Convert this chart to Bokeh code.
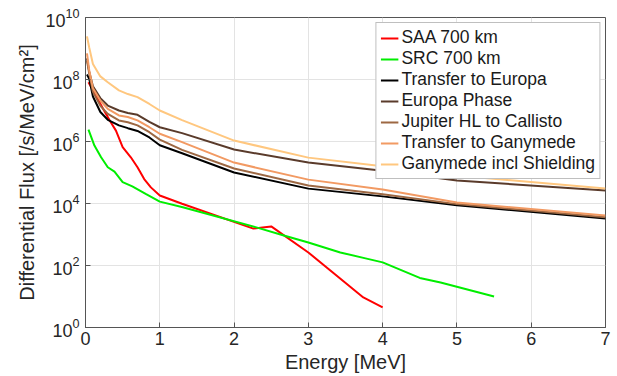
from bokeh.plotting import figure
from bokeh.models import FixedTicker, Legend, LegendItem, Range1d
from bokeh.embed import file_html
from bokeh.resources import INLINE

# ---- data (energy in MeV, flux as log10 of /s/MeV/cm^2) ----
saa_e = [0.04, 0.14, 0.25, 0.34, 0.41, 0.5, 0.61, 0.7, 0.79, 0.88, 1.0, 1.3, 2.26, 2.5, 3.0, 3.74, 4.0]
saa_log = [7.91, 7.48, 7.0, 6.62, 6.35, 5.82, 5.49, 5.17, 4.79, 4.52, 4.26, 3.99, 3.19, 3.26, 2.42, 0.97, 0.65]

src_e = [0.04, 0.12, 0.21, 0.3, 0.39, 0.5, 0.63, 0.81, 1.0, 1.31, 2.3, 2.67, 3.0, 3.43, 3.77, 4.0, 4.5, 4.78, 5.5]
src_log = [6.38, 5.87, 5.49, 5.17, 5.03, 4.69, 4.55, 4.31, 4.06, 3.88, 3.23, 2.97, 2.74, 2.42, 2.23, 2.1, 1.6, 1.45, 1.0]

jup_e = [0.02, 0.05, 0.1, 0.2, 0.3, 0.45, 0.57, 0.7, 0.86, 1.0, 1.3, 2.0, 3.0, 4.0, 5.0, 7.0]
europa_transfer_log = [8.16, 8.02, 7.45, 6.95, 6.7, 6.52, 6.43, 6.34, 6.13, 5.88, 5.62, 5.0, 4.48, 4.23, 3.94, 3.52]
europa_phase_log = [8.68, 8.25, 7.78, 7.4, 7.16, 7.0, 6.92, 6.86, 6.63, 6.46, 6.27, 5.74, 5.32, 5.06, 4.74, 4.42]
jupiter_hl_log = [8.6, 8.2, 7.6, 7.15, 6.89, 6.68, 6.62, 6.52, 6.3, 6.06, 5.73, 5.13, 4.58, 4.3, 3.98, 3.56]
ganymede_transfer_log = [8.84, 8.3, 7.72, 7.32, 7.05, 6.84, 6.79, 6.68, 6.46, 6.25, 5.98, 5.32, 4.77, 4.45, 4.03, 3.61]
ganymede_shield_log = [9.39, 9.03, 8.5, 8.1, 7.91, 7.65, 7.53, 7.43, 7.21, 7.0, 6.69, 6.03, 5.48, 5.2, 4.9, 4.48]

series = [
    ("SAA 700 km", saa_e, saa_log, "#ff0000"),
    ("SRC 700 km", src_e, src_log, "#00ee00"),
    ("Transfer to Europa", jup_e, europa_transfer_log, "#000000"),
    ("Europa Phase", jup_e, europa_phase_log, "#5a3b2b"),
    ("Jupiter HL to Callisto", jup_e, jupiter_hl_log, "#9d6843"),
    ("Transfer to Ganymede", jup_e, ganymede_transfer_log, "#f29a63"),
    ("Ganymede incl Shielding", jup_e, ganymede_shield_log, "#ffc77f"),
]

y_ticks = [1e0, 1e2, 1e4, 1e6, 1e8, 1e10]
x_ticks = [0, 1, 2, 3, 4, 5, 6, 7]

FONT = "Liberation Sans"

p = figure(width=612, height=376, y_axis_type="log", output_backend="svg",
           toolbar_location=None, x_range=Range1d(0, 7), y_range=Range1d(1, 1e10),
           min_border_left=85, min_border_right=7, min_border_top=17, min_border_bottom=49)

items = []
for name, e, lg, col in series:
    r = p.line(e, [10 ** v for v in lg], line_color=col, line_width=2)
    items.append(LegendItem(label=name, renderers=[r]))

legend = Legend(items=items, location="top_right", label_text_font=FONT,
                label_text_font_size="17.5px", label_height=20, glyph_height=20,
                glyph_width=18, spacing=0, padding=4, margin=5,
                border_line_color="#808080", border_line_width=1,
                label_standoff=3, background_fill_alpha=1.0,
                label_text_color="#1a1a1a")
p.add_layout(legend)

p.xaxis.ticker = FixedTicker(ticks=x_ticks)
p.yaxis.ticker = FixedTicker(ticks=y_ticks)
p.xaxis.axis_label = "Energy [MeV]"
p.yaxis.axis_label = "Differential Flux [/s/MeV/cm²]"
for ax in (p.xaxis, p.yaxis):
    ax.axis_label_text_font = FONT
    ax.axis_label_text_font_style = "normal"
    ax.axis_label_text_font_size = "20px"
    ax.axis_label_text_color = "#262626"
    ax.major_label_text_font = FONT
    ax.major_label_text_font_size = "18px"
    ax.major_label_text_color = "#262626"
    ax.major_tick_in = 5
    ax.major_tick_out = 0
    ax.minor_tick_in = 0
    ax.minor_tick_out = 0
    ax.axis_line_color = "#555555"
    ax.major_tick_line_color = "#555555"
p.xaxis.major_label_standoff = 4
p.xaxis.axis_label_standoff = 3
p.yaxis.major_label_standoff = 6
p.yaxis.axis_label_standoff = 4

p.xgrid.ticker = FixedTicker(ticks=x_ticks)
p.ygrid.ticker = FixedTicker(ticks=y_ticks)
p.grid.grid_line_color = "#e3e3e3"
p.grid.grid_line_width = 1
p.outline_line_color = "#555555"
p.background_fill_color = "white"

open("out.html", "w").write(file_html(p, INLINE))
